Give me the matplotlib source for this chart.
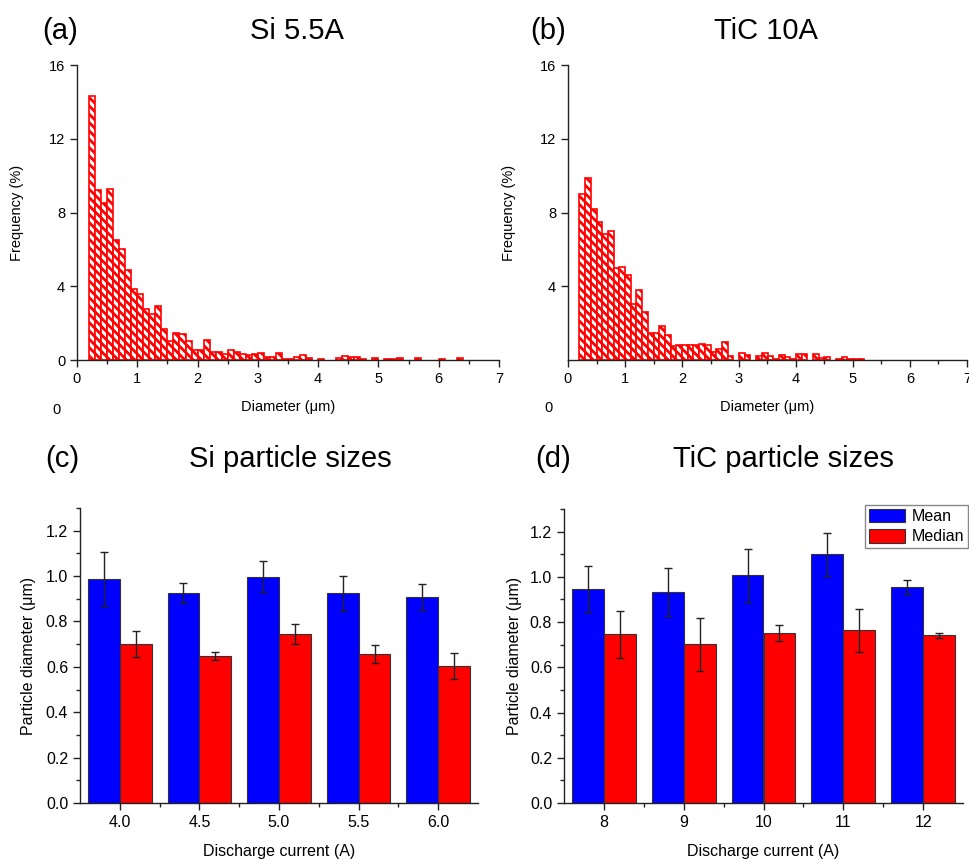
import numpy as np
import matplotlib
matplotlib.use('Agg')
import matplotlib.pyplot as plt
from matplotlib.ticker import MultipleLocator, FixedLocator

plt.rcParams['font.family'] = ['Liberation Sans', 'DejaVu Sans']
plt.rcParams['hatch.linewidth'] = 2.0

# ---------------- data ----------------
bin_width = 0.1
si_first_bin = 0.2
si_freq = [14.3, 9.2, 8.5, 9.3, 6.5, 6.0, 4.9, 3.85, 3.6, 2.75,
           2.5, 2.95, 1.7, 1.05, 1.45, 1.4, 1.05, 0.55, 0.55, 1.1,
           0.45, 0.45, 0.35, 0.55, 0.45, 0.3, 0.25, 0.3, 0.4, 0.18,
           0.15, 0.4, 0.05, 0.07, 0.15, 0.25, 0.11, 0.0, 0.05, 0.0,
           0.0, 0.11, 0.22, 0.15, 0.15, 0.05, 0.0, 0.11, 0.0, 0.05,
           0.05, 0.11, 0.0, 0.0, 0.11, 0.0, 0.0, 0.0, 0.05, 0.0,
           0.0, 0.11]
tic_first_bin = 0.2
tic_freq = [9.0, 9.85, 8.2, 7.5, 6.85, 7.0, 5.0, 5.05, 4.6, 3.05,
            3.8, 2.6, 1.45, 1.45, 1.85, 1.35, 0.75, 0.8, 0.8, 0.8,
            0.8, 0.85, 0.8, 0.42, 0.6, 0.95, 0.2, 0.0, 0.36, 0.27,
            0.0, 0.2, 0.36, 0.2, 0.05, 0.25, 0.15, 0.05, 0.35, 0.35,
            0.0, 0.35, 0.11, 0.18, 0.0, 0.07, 0.15, 0.07, 0.07, 0.07]

si_currents = ['4.0', '4.5', '5.0', '5.5', '6.0']
si_mean = [0.988, 0.926, 0.997, 0.924, 0.909]
si_mean_err = [0.12, 0.043, 0.069, 0.078, 0.057]
si_median = [0.700, 0.647, 0.744, 0.657, 0.604]
si_median_err = [0.056, 0.018, 0.045, 0.040, 0.059]

tic_currents = ['8', '9', '10', '11', '12']
tic_mean = [0.947, 0.931, 1.007, 1.099, 0.956]
tic_mean_err = [0.103, 0.106, 0.117, 0.097, 0.030]
tic_median = [0.747, 0.701, 0.751, 0.763, 0.741]
tic_median_err = [0.104, 0.116, 0.036, 0.096, 0.011]

# ---------------- figure ----------------
W, H = 970, 860
fig = plt.figure(figsize=(W / 100, H / 100), dpi=100)


def px_axes(left, right, top, bottom):
    return fig.add_axes([left / W, 1 - bottom / H, (right - left) / W, (bottom - top) / H])


def style_axes(ax):
    for s in ['top', 'right']:
        ax.spines[s].set_visible(False)
    for s in ['left', 'bottom']:
        ax.spines[s].set_linewidth(1.0)
        ax.spines[s].set_color('#222222')


def draw_hist(ax, first_bin, freq, yticks):
    lefts = first_bin + bin_width * np.arange(len(freq))
    freq = np.asarray(freq)
    mask = freq > 0
    ax.bar(lefts[mask], freq[mask], width=bin_width, align='edge',
           facecolor='white', edgecolor='red', hatch='\\\\\\\\', linewidth=1.2)
    ax.set_xlim(0, 7)
    ax.set_ylim(0, 16)
    style_axes(ax)
    ax.set_yticks(yticks)
    ax.xaxis.set_major_locator(MultipleLocator(1))
    ax.xaxis.set_minor_locator(MultipleLocator(0.5))
    ax.tick_params(axis='both', which='major', direction='out', length=5,
                   width=1.0, labelsize=10.5, color='#222222')
    ax.tick_params(axis='both', which='minor', direction='out', length=3,
                   width=1.0, color='#222222')
    ax.set_xlabel('Diameter (μm)', fontsize=10.5, labelpad=10)
    ax.set_ylabel('Frequency (%)', fontsize=10.5)


# (a)
ax_a = px_axes(77, 499, 65, 360)
draw_hist(ax_a, si_first_bin, si_freq, [0, 4, 8, 12, 16])
ax_a.yaxis.set_label_coords(-0.126, 0.5)
fig.text(57 / W, 1 - 410 / H, '0', fontsize=10.5, ha='center', va='center')

# (b)
ax_b = px_axes(568, 967, 65, 360)
draw_hist(ax_b, tic_first_bin, tic_freq, [4, 8, 12, 16])
ax_b.yaxis.set_label_coords(-0.13, 0.5)
fig.text(549 / W, 1 - 408 / H, '0', fontsize=10.5, ha='center', va='center')


def draw_bars(ax, cats, mean, mean_err, median, median_err, legend=False):
    x = np.arange(len(cats))
    ekw = dict(ecolor='#222222', elinewidth=1.0, capthick=1.0)
    ax.bar(x - 0.2, mean, width=0.4, color='#0000ff', edgecolor='#333333',
           linewidth=0.8, yerr=mean_err, capsize=3, error_kw=ekw, label='Mean')
    ax.bar(x + 0.2, median, width=0.4, color='#ff0000', edgecolor='#333333',
           linewidth=0.8, yerr=median_err, capsize=3, error_kw=ekw, label='Median')
    ax.set_xlim(-0.5, len(cats) - 0.5)
    ax.set_ylim(0, 1.3)
    style_axes(ax)
    ax.set_xticks(x)
    ax.set_xticklabels(cats)
    ax.xaxis.set_minor_locator(FixedLocator(x[:-1] + 0.5))
    ax.set_yticks([0.0, 0.2, 0.4, 0.6, 0.8, 1.0, 1.2])
    ax.yaxis.set_minor_locator(MultipleLocator(0.1))
    ax.yaxis.set_major_formatter(matplotlib.ticker.FormatStrFormatter('%.1f'))
    ax.tick_params(axis='both', which='major', direction='out', length=5,
                   width=1.0, labelsize=11.5, color='#222222')
    ax.tick_params(axis='both', which='minor', direction='out', length=3,
                   width=1.0, color='#222222')
    ax.set_xlabel('Discharge current (A)', fontsize=11.5, labelpad=10)
    ax.set_ylabel('Particle diameter (μm)', fontsize=11.5)
    if legend:
        leg = ax.legend(loc='upper right', bbox_to_anchor=(1.013, 1.015),
                        borderaxespad=0, fontsize=11.5, frameon=True,
                        fancybox=False, edgecolor='#888888', framealpha=1,
                        handlelength=2.3, handleheight=0.9, handletextpad=0.4,
                        borderpad=0.25, labelspacing=0.35)
        leg.get_frame().set_linewidth(1.0)


# (c)
ax_c = px_axes(80, 478, 508, 803)
draw_bars(ax_c, si_currents, si_mean, si_mean_err, si_median, si_median_err)
ax_c.yaxis.set_label_coords(-0.11, 0.5)

# (d)
ax_d = px_axes(564, 963, 509, 803)
draw_bars(ax_d, tic_currents, tic_mean, tic_mean_err, tic_median, tic_median_err, legend=True)
ax_d.yaxis.set_label_coords(-0.105, 0.5)

# panel titles
tfs = 21
fig.text(42 / W, 1 - 39 / H, '(a)', fontsize=tfs, ha='left', va='baseline')
fig.text(297 / W, 1 - 39 / H, 'Si 5.5A', fontsize=tfs, ha='center', va='baseline')
fig.text(530 / W, 1 - 39 / H, '(b)', fontsize=tfs, ha='left', va='baseline')
fig.text(766 / W, 1 - 39 / H, 'TiC 10A', fontsize=tfs, ha='center', va='baseline')
fig.text(45 / W, 1 - 467 / H, '(c)', fontsize=tfs, ha='left', va='baseline')
fig.text(290 / W, 1 - 467 / H, 'Si particle sizes', fontsize=tfs, ha='center', va='baseline')
fig.text(535 / W, 1 - 467 / H, '(d)', fontsize=tfs, ha='left', va='baseline')
fig.text(783 / W, 1 - 467 / H, 'TiC particle sizes', fontsize=tfs, ha='center', va='baseline')

fig.savefig('out.png', dpi=100)
